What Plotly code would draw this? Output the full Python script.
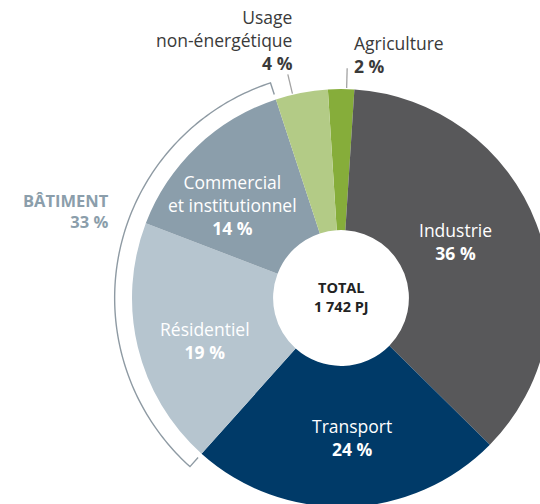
import numpy as np
import plotly.graph_objects as go

# data
sectors = ["Agriculture", "Industrie", "Transport", "Résidentiel",
           "Commercial et institutionnel", "Usage non-énergétique"]
shares = [2, 36, 24, 19, 14, 4]
label_lines = [["Agriculture"], ["Industrie"], ["Transport"], ["Résidentiel"],
               ["Commercial", "et institutionnel"], ["Usage", "non-énergétique"]]
batiment = ["Résidentiel", "Commercial et institutionnel"]
batiment_name = "BÂTIMENT"
total_label = ["TOTAL", "1 742 PJ"]

colors = ["#86ad3a", "#58585a", "#003a68", "#b6c5cf", "#8b9eab", "#b3cb86"]

# geometry (pixels); the ring runs past the right/bottom edge like the original crop
R = 209
CX, CY = 341, 298
W, H = CX + R, CY + R + 1
HOLE = 0.325
START = -3.6
FONT = "Open Sans"


def px(x, y):
    return x / W, 1 - y / H


def polar(a, rf):
    rad = np.radians(a)
    return CX + rf * R * np.sin(rad), CY - rf * R * np.cos(rad)


tot = sum(shares)
edges = START + np.concatenate([[0], np.cumsum(shares)]) / tot * 360
mids = (edges[:-1] + edges[1:]) / 2
idx = {s: i for i, s in enumerate(sectors)}

fig = go.Figure(go.Pie(
    labels=sectors, values=shares, sort=False, direction="clockwise",
    rotation=START, hole=HOLE, marker=dict(colors=colors, line=dict(width=0)),
    textinfo="none", hoverinfo="label+percent", showlegend=False,
    domain=dict(x=[(CX - R) / W, 1], y=[1 - (CY + R) / H, 1 - (CY - R) / H]),
))

annotations = []


def add_text(x, y, s, size=18, color="white", anchor="center"):
    xp, yp = px(x, y)
    annotations.append(dict(x=xp, y=yp, xref="paper", yref="paper", text=s,
                            showarrow=False, xanchor=anchor, yanchor="middle",
                            align=anchor if anchor != "center" else "center",
                            font=dict(family=FONT, size=size, color=color)))


# labels inside the ring
inside_pos = {"Industrie": (-5.5, 0.61), "Transport": (-2.7, 0.67),
              "Résidentiel": (-3.9, 0.68), "Commercial et institutionnel": (-5.9, 0.685)}
for name, (da, rf) in inside_pos.items():
    i = idx[name]
    lines = label_lines[i] + [f"<b>{shares[i]} %</b>"]
    bx, by = polar(mids[i] + da, rf)
    add_text(bx, by, "<br>".join(lines), size=17.5)

# outside labels with leader lines
shapes = []
outside_pos = {"Usage non-énergétique": (-2.5, "right", 7, -34),
               "Agriculture": (1.5, "left", 5, -14)}
for name, (da, side, dx, dy) in outside_pos.items():
    i = idx[name]
    x1, y1 = polar(mids[i] + da, 1.005)
    x2, y2 = polar(mids[i] + da, 1.10)
    p1, p2 = px(x1, y1), px(x2, y2)
    shapes.append(dict(type="line", xref="paper", yref="paper",
                       x0=p1[0], y0=p1[1], x1=p2[0], y1=p2[1],
                       line=dict(color="#a3a3a3", width=1.3)))
    lines = label_lines[i] + [f"<b>{shares[i]} %</b>"]
    add_text(x2 + dx, y2 + dy, "<br>".join(lines), size=17.5, color="#3a3a3a", anchor=side)

# bracket arc around the building sectors
bi = [idx[b] for b in batiment]
a0, a1 = edges[min(bi)], edges[max(bi) + 1]
arc_a = np.linspace(a0, a1, 120)
pts = [polar(a0, 1.025)] + [polar(a, 1.083) for a in arc_a] + [polar(a1, 1.025)]
path = "M " + " L ".join(f"{px(x, y)[0]:.5f},{px(x, y)[1]:.5f}" for x, y in pts)
shapes.append(dict(type="path", xref="paper", yref="paper", path=path,
                   line=dict(color="#8e9aa3", width=1.4)))

bat_share = sum(shares[i] for i in bi)
add_text(CX - 1.083 * R - 4, CY - 87,
         f"<b>{batiment_name}<br>{bat_share} %</b>", size=16.5, color="#8b9eab", anchor="right")

# centre text
add_text(CX, CY - 1, f"<b>{total_label[0]}<br>{total_label[1]}</b>", size=14.5, color="#222222")

fig.update_layout(
    width=W, height=H,
    margin=dict(l=0, r=0, t=0, b=0),
    paper_bgcolor="white", plot_bgcolor="white",
    annotations=annotations, shapes=shapes,
    font=dict(family=FONT),
)

fig.write_html(
    "out.html",
    config={"displayModeBar": False},
    post_script="document.body.style.margin='0';document.body.style.overflow='hidden';",
)
